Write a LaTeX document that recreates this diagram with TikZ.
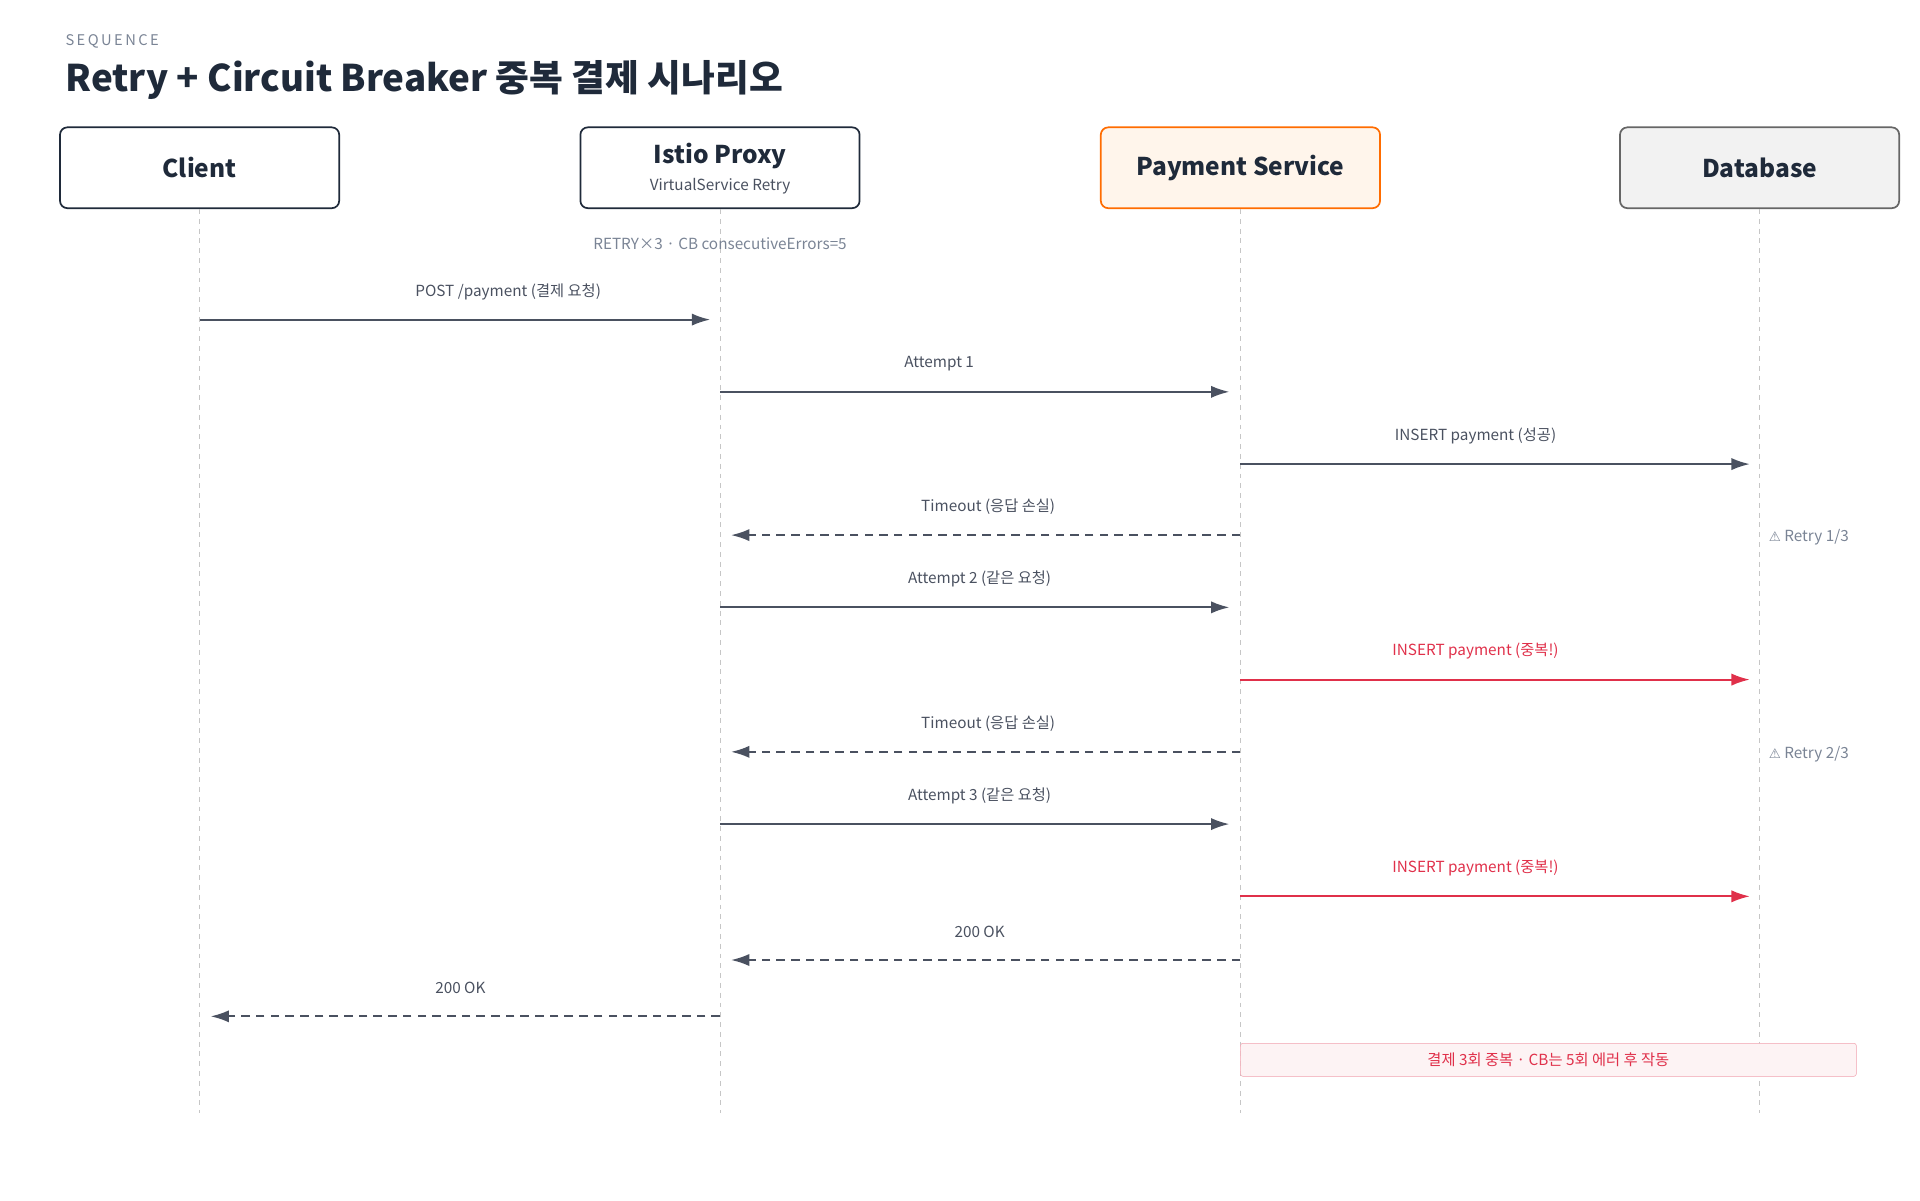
\documentclass[tikz,border=0pt]{standalone}
\usepackage{fontspec}
\setmainfont{Noto Sans CJK KR}
\newfontfamily\symfont{DejaVu Sans}
\usetikzlibrary{arrows.meta,positioning}
\definecolor{ink}{HTML}{1F2A3A}
\definecolor{msg}{HTML}{4A5160}
\definecolor{dup}{HTML}{E0304A}
\definecolor{muted}{HTML}{7A8495}
\begin{document}
\begin{tikzpicture}[x=1pt,y=-1pt,
    actor/.style = {draw=ink,line width=1.4pt,rounded corners=6pt,fill=white,
                    minimum width=228pt,minimum height=66pt,font=\fontsize{20}{24}\selectfont\bfseries,text=ink},
    life/.style = {draw=gray!45,dash pattern=on 4pt off 4pt,line width=0.8pt},
    call/.style = {msg,line width=1.6pt,-{Latex[length=15pt,width=10pt]}},
    reply/.style = {call,dash pattern=on 7pt off 5pt},
    bad/.style = {call,draw=dup,color=dup},
    lbl/.style = {font=\fontsize{12.5}{15}\selectfont,text=msg},
    note/.style = {font=\fontsize{12.5}{15}\selectfont,text=muted}]
    \useasboundingbox (0,0) rectangle (1568,980);

    \node[anchor=west,font=\fontsize{12}{14}\selectfont,text=muted] at (50,34) {S\,E\,Q\,U\,E\,N\,C\,E};
    \node[anchor=west,font=\fontsize{30}{36}\selectfont\bfseries,text=ink] at (50,65) {Retry + Circuit Breaker 중복 결제 시나리오};

    % actors
    \node[actor] (client) at (163,137) {Client};
    \node[actor] (proxy) at (588,137) {};
    \node[font=\fontsize{20}{24}\selectfont\bfseries,text=ink] at (588,127) {Istio Proxy};
    \node[font=\fontsize{12.5}{15}\selectfont,text=msg] at (588,152) {VirtualService Retry};
    \node[actor,draw=orange!85!red,fill=orange!8] (pay) at (1013,137) {Payment Service};
    \node[actor,draw=gray!80!black,fill=gray!10] (db) at (1437,137) {Database};

    % lifelines
    \foreach \a in {client,proxy,pay,db}
        \draw[life] (\a.south) -- ++(0,738) coordinate (\a-end);

    \node[note] at (588,199) {RETRY×3 · CB consecutiveErrors=5};

    % messages
    \coordinate (c1) at (163,261);  \coordinate (p1) at (580,261);
    \draw[call] (c1) -- (p1);
    \node[lbl] at (415,238) {POST /payment (결제 요청)};
    \coordinate (p2) at (588,320);  \coordinate (s2) at (1004,320);
    \draw[call] (p2) -- (s2);
    \node[lbl] at (767,297) {Attempt 1};
    \coordinate (s3) at (1013,379); \coordinate (d3) at (1429,379);
    \draw[call] (s3) -- (d3);
    \node[lbl] at (1205,356) {INSERT payment (성공)};
    \coordinate (s4) at (1013,437); \coordinate (p4) at (597,437);
    \draw[reply] (s4) -- (p4);
    \node[lbl] at (807,414) {Timeout (응답 손실)};
    \node[note,anchor=west] at (1441,439) {{\symfont\fontsize{11}{13}\selectfont ⚠} Retry 1/3};
    \coordinate (p5) at (588,496);  \coordinate (s5) at (1004,496);
    \draw[call] (p5) -- (s5);
    \node[lbl] at (800,473) {Attempt 2 (같은 요청)};
    \coordinate (s6) at (1013,555); \coordinate (d6) at (1429,555);
    \draw[bad] (s6) -- (d6);
    \node[lbl,text=dup] at (1205,532) {INSERT payment (중복!)};
    \coordinate (s7) at (1013,614); \coordinate (p7) at (597,614);
    \draw[reply] (s7) -- (p7);
    \node[lbl] at (807,591) {Timeout (응답 손실)};
    \node[note,anchor=west] at (1441,616) {{\symfont\fontsize{11}{13}\selectfont ⚠} Retry 2/3};
    \coordinate (p8) at (588,673);  \coordinate (s8) at (1004,673);
    \draw[call] (p8) -- (s8);
    \node[lbl] at (800,650) {Attempt 3 (같은 요청)};
    \coordinate (s9) at (1013,732); \coordinate (d9) at (1429,732);
    \draw[bad] (s9) -- (d9);
    \node[lbl,text=dup] at (1205,709) {INSERT payment (중복!)};
    \coordinate (s10) at (1013,784); \coordinate (p10) at (597,784);
    \draw[reply] (s10) -- (p10);
    \node[lbl] at (800,761) {200 OK};
    \coordinate (p11) at (588,830); \coordinate (c11) at (172,830);
    \draw[reply] (p11) -- (c11);
    \node[lbl] at (376,807) {200 OK};

    % note
    \node[draw=dup!45,fill=dup!6,rounded corners=2pt,minimum width=503pt,minimum height=27pt,
          font=\fontsize{12.5}{15}\selectfont,text=dup] (warn) at (1264.5,865.5) {결제 3회 중복 · CB는 5회 에러 후 작동};
\end{tikzpicture}
\end{document}
